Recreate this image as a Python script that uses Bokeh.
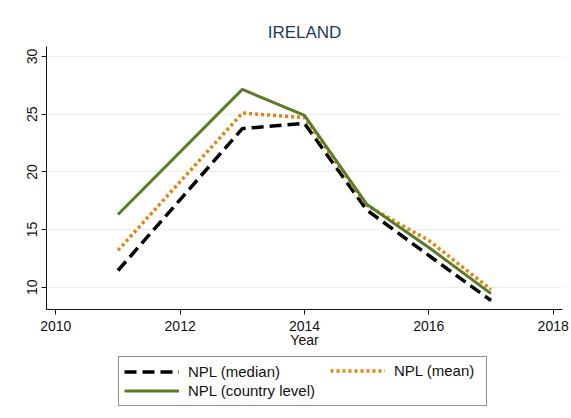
from bokeh.plotting import figure
from bokeh.models import Range1d, Legend, LegendItem, FixedTicker
from bokeh.layouts import column
from bokeh.embed import file_html
from bokeh.resources import INLINE

years = [2011, 2013, 2014, 2015, 2016, 2017]
npl_median = [11.45, 23.75, 24.2, 16.7, 12.75, 8.85]
npl_mean = [13.2, 25.1, 24.7, 17.1, 14.05, 9.8]
npl_country = [16.3, 27.15, 24.9, 17.2, 13.45, 9.45]

x_ticks = [2010, 2012, 2014, 2016, 2018]
y_ticks = [10, 15, 20, 25, 30]
series_labels = ["NPL (median)", "NPL (mean)", "NPL (country level)"]

FONT = "Liberation Sans"
STYLES = [dict(line_color="black", line_width=3.5, line_dash="12 6"),
          dict(line_color="#e8820c", line_width=3.5, line_dash="3 3"),
          dict(line_color="#5a7d2a", line_width=3)]

p = figure(width=571, height=350, output_backend="svg", toolbar_location=None,
           x_range=Range1d(2009.85, 2018.15), y_range=Range1d(8.07, 30.87),
           min_border_left=46, min_border_top=46, min_border_right=9, min_border_bottom=41)
p.outline_line_color = None
p.background_fill_color = "white"
p.border_fill_color = "white"

p.title.text = "IRELAND"
p.title.align = "center"
p.title.text_font = FONT
p.title.text_font_size = "17px"
p.title.text_font_style = "normal"
p.title.text_color = "#1c3a5e"

p.xgrid.grid_line_color = None
p.ygrid.grid_line_color = "#e6eff1"
p.ygrid.grid_line_width = 1

p.xaxis.ticker = FixedTicker(ticks=x_ticks)
p.yaxis.ticker = FixedTicker(ticks=y_ticks)
for ax in (p.xaxis[0], p.yaxis[0]):
    ax.major_label_text_font = FONT
    ax.major_label_text_font_size = "14px"
    ax.major_label_text_color = "#111111"
    ax.axis_line_color = "#111111"
    ax.major_tick_line_color = "#111111"
    ax.minor_tick_line_color = None
    ax.major_tick_out = 5
    ax.major_tick_in = 0
    ax.major_label_standoff = 6
p.yaxis.major_label_orientation = "vertical"
p.yaxis.major_label_standoff = 4
p.xaxis.axis_label = "Year"
p.xaxis.axis_label_text_font = FONT
p.xaxis.axis_label_text_font_size = "14px"
p.xaxis.axis_label_text_font_style = "normal"
p.xaxis.axis_label_text_color = "#111111"
p.xaxis.axis_label_standoff = -2

for vals, st in zip([npl_median, npl_mean, npl_country], STYLES):
    p.line(years, vals, **st)

# legend panel below the chart (same series, drawn out of view)
lg = figure(width=571, height=68, output_backend="svg", toolbar_location=None,
            x_range=Range1d(0, 1), y_range=Range1d(0, 1),
            min_border_left=0, min_border_right=0, min_border_top=0, min_border_bottom=0,
            x_axis_location=None, y_axis_location=None)
lg.outline_line_color = None
lg.grid.visible = False
lg.border_fill_color = "white"
rends = [lg.line(years, vals, **st) for vals, st in zip([npl_median, npl_mean, npl_country], STYLES)]


def style(leg):
    leg.label_text_font = FONT
    leg.label_text_font_size = "15px"
    leg.label_text_color = "#111111"
    leg.glyph_width = 55
    leg.glyph_height = 19
    leg.label_height = 19
    leg.label_standoff = 9
    leg.spacing = 0
    leg.padding = 5
    leg.margin = 0


# left column (with the frame around the whole legend)
legend_a = Legend(items=[LegendItem(label=series_labels[0], renderers=[rends[0]]),
                         LegendItem(label=series_labels[2], renderers=[rends[2]])],
                  orientation="vertical")
style(legend_a)
legend_a.label_width = 293
legend_a.border_line_color = "#222222"
legend_a.border_line_width = 1
legend_a.location = (72, 12)
lg.add_layout(legend_a, "center")

# right column
legend_b = Legend(items=[LegendItem(label=series_labels[1], renderers=[rends[1]])],
                  orientation="vertical")
style(legend_b)
legend_b.border_line_color = None
legend_b.background_fill_alpha = 0
legend_b.location = (284, 38)
lg.add_layout(legend_b, "center")

open("out.html", "w").write(file_html(column(p, lg, spacing=0), INLINE))
